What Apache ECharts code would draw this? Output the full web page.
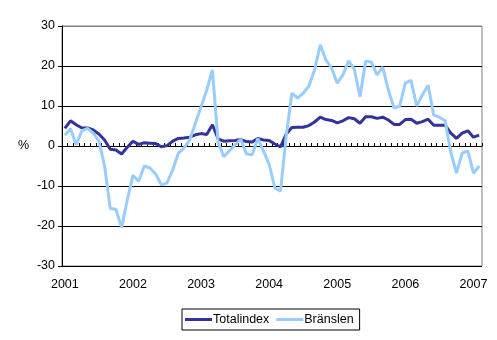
<!DOCTYPE html>
<html><head><meta charset="utf-8">
<script src="https://cdn.jsdelivr.net/npm/echarts@6/dist/echarts.min.js"></script>
<style>html,body{margin:0;padding:0;background:#fff}#c{width:497px;height:340px}</style>
</head><body><div id="c"></div>
<script>
// Monthly categories Jan 2001 .. Feb 2007
const firstYear = 2001;
const monthCount = 74;
const categories = [];
for (let i = 0; i < monthCount; i++) {
  categories.push((firstYear + Math.floor(i / 12)) + '-' + String(i % 12 + 1).padStart(2, '0'));
}
const seriesNames = ['Totalindex', 'Bränslen'];
const totalindex = [
  4.4, 6.3, 5.3, 4.5, 4.5, 4.0, 3.0, 1.5, -0.8, -1.0, -2.0, -0.3,
  1.2, 0.4, 0.8, 0.7, 0.6, -0.2, 0.1, 1.2, 1.9, 2.0, 2.2, 2.8,
  3.1, 2.9, 5.3, 1.8, 1.2, 1.3, 1.4, 1.6, 1.1, 1.0, 1.9, 1.5,
  1.4, 0.5, -0.2, 3.0, 4.6, 4.7, 4.7, 5.1, 6.0, 7.2, 6.6, 6.4,
  5.8, 6.3, 7.1, 6.8, 5.7, 7.3, 7.3, 6.9, 7.2, 6.5, 5.4, 5.4,
  6.6, 6.7, 5.7, 6.1, 6.7, 5.2, 5.2, 5.2, 3.2, 1.9, 3.2, 3.8,
  2.2, 2.7
];
const branslen = [
  2.7, 4.3, 0.3, 3.8, 4.4, 3.2, 1.3, -5.0, -15.6, -15.8, -20.4, -13.5,
  -7.3, -8.8, -5.0, -5.5, -7.0, -9.7, -9.2, -6.0, -1.8, -0.5, 1.5, 5.7,
  9.8, 14.0, 19.0, 1.0, -2.7, -1.2, 0.3, 1.7, -2.0, -2.2, 1.9, -1.3,
  -4.6, -10.5, -11.3, 2.5, 13.2, 12.0, 13.2, 15.0, 19.0, 25.3, 21.5, 19.5,
  15.7, 17.8, 21.3, 19.2, 12.3, 21.2, 21.0, 17.8, 19.7, 14.0, 9.5, 10.0,
  15.8, 16.4, 10.0, 12.8, 15.2, 7.7, 7.2, 6.3, -1.5, -6.8, -1.8, -1.2,
  -6.8, -5.0
];
const yMin = -30, yMax = 30, yStep = 10;

const font = '"Liberation Sans", Arial, sans-serif';
const chart = echarts.init(document.getElementById('c'), null, {renderer: 'canvas'});
chart.setOption({
  animation: false,
  backgroundColor: '#fff',
  textStyle: {fontFamily: font},
  grid: {left: 62, right: 15, top: 26, bottom: 74, show: true, borderColor: '#808080', borderWidth: 1, backgroundColor: 'transparent'},
  graphic: [{type: 'text', left: 18, top: 139, style: {text: '%', font: '12.5px ' + font, fill: '#000'}}],
  legend: {
    left: 182, top: 309,
    padding: [4, 6, 4, 3],
    borderColor: '#000', borderWidth: 1,
    itemGap: 7, itemWidth: 27, itemHeight: 3,
    icon: 'rect',
    textStyle: {fontSize: 12.5, color: '#000', fontFamily: font, padding: [0, 0, 0, -4]},
    data: seriesNames
  },
  xAxis: {
    type: 'category', data: categories, boundaryGap: true,
    axisLine: {lineStyle: {color: '#000', width: 1}},
    axisTick: {show: true, inside: true, length: 3, interval: 0, lineStyle: {color: '#000'}},
    axisLabel: {interval: 11, color: '#000', fontSize: 12.5, margin: 12, formatter: v => v.slice(0, 4)},
    splitLine: {show: false}
  },
  yAxis: {
    type: 'value', min: yMin, max: yMax, interval: yStep,
    axisLine: {show: true, lineStyle: {color: '#000', width: 1}},
    axisTick: {show: true, length: 4, lineStyle: {color: '#000'}},
    axisLabel: {color: '#000', fontSize: 12.5, margin: 7},
    splitLine: {show: true, lineStyle: {color: ['#000', '#000', '#000', '#000', '#000', '#000', '#808080'], width: 1}}
  },
  series: [
    {name: seriesNames[0], type: 'line', data: totalindex, symbol: 'none', lineStyle: {color: '#333399', width: 3}, itemStyle: {color: '#333399'}},
    {name: seriesNames[1], type: 'line', data: branslen, symbol: 'none', lineStyle: {color: '#99CCFF', width: 3}, itemStyle: {color: '#99CCFF'}}
  ]
});
</script>
</body></html>
